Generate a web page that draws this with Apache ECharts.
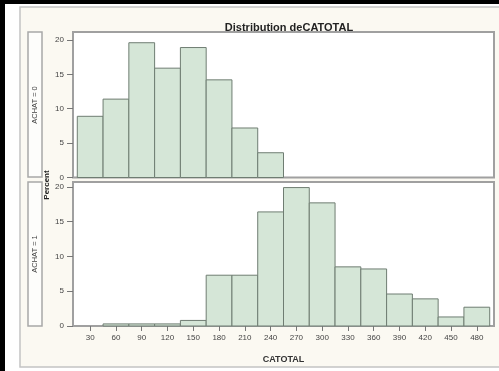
<!DOCTYPE html>
<html>
<head>
<meta charset="utf-8">
<script src="https://cdn.jsdelivr.net/npm/echarts@6/dist/echarts.min.js"></script>
<style>
  html, body { margin: 0; padding: 0; background: #fff; }
  #wrap { position: relative; width: 499px; height: 371px; }
  #chart { width: 499px; height: 371px; }
  #wrap::before { content: ''; position: absolute; left: 0; top: 0; width: 499px; height: 4px; background: #000; z-index: 5; }
  #wrap::after { content: ''; position: absolute; left: 0; top: 0; width: 5px; height: 371px; background: #000; z-index: 5; }
</style>
</head>
<body>
<div id="wrap"><div id="chart"></div></div>
<script>
// bin midpoints of CATOTAL (width 30)
const binCenters = [30, 60, 90, 120, 150, 180, 210, 240, 270, 300, 330, 360, 390, 420, 450, 480];
const binWidth = 30;
// percent per bin, ACHAT = 0
const achat0 = [8.9, 11.4, 19.6, 15.9, 18.9, 14.2, 7.2, 3.6, 0, 0, 0, 0, 0, 0, 0, 0];
// percent per bin, ACHAT = 1
const achat1 = [0, 0.3, 0.3, 0.3, 0.8, 7.3, 7.3, 16.4, 19.9, 17.7, 8.5, 8.2, 4.6, 3.9, 1.3, 2.7];
const yTicks = [0, 5, 10, 15, 20];
const panelLabels = ['ACHAT = 0', 'ACHAT = 1'];

const barFill = '#d5e6d7';
const barEdge = '#6f7d72';
const textFont = '"Liberation Sans", Arial, sans-serif';

const chart = echarts.init(document.getElementById('chart'));

function renderBar(params, api) {
  const v = api.value(1);
  if (!v) return null;
  const c = api.value(0);
  const topLeft = api.coord([c - binWidth / 2, v]);
  const botRight = api.coord([c + binWidth / 2, 0]);
  return {
    type: 'rect',
    shape: { x: topLeft[0], y: topLeft[1], width: botRight[0] - topLeft[0], height: botRight[1] - topLeft[1] },
    style: { fill: barFill, stroke: barEdge, lineWidth: 1 }
  };
}

const yAxisBase = {
  type: 'value',
  min: 0,
  splitLine: { show: false },
  axisLine: { show: false },
  axisTick: { show: true, customValues: yTicks, length: 6, lineStyle: { color: '#777' } },
  axisLabel: { customValues: yTicks, fontSize: 8, color: '#444', margin: 9, fontFamily: textFont }
};

const xAxisBase = {
  type: 'value',
  min: 10,
  max: 500,
  splitLine: { show: false },
  axisLine: { show: false }
};

const option = {
  animation: false,
  backgroundColor: '#fff',
  title: {
    text: 'Distribution deCATOTAL',
    left: 284,
    top: 17,
    textAlign: 'center',
    textStyle: { fontSize: 11, fontWeight: 'bold', color: '#222', fontFamily: textFont }
  },
  graphic: [
    { type: 'rect', z: -10, shape: { x: 20, y: 7, width: 500, height: 360 },
      style: { fill: '#fbf9f2', stroke: '#c4c4c4', lineWidth: 1.5 } },
    // strip label boxes
    { type: 'rect', shape: { x: 28, y: 32, width: 14, height: 145 },
      style: { fill: '#fdfdfb', stroke: '#a8a8a8', lineWidth: 1.5 } },
    { type: 'rect', shape: { x: 28, y: 182, width: 14, height: 144 },
      style: { fill: '#fdfdfb', stroke: '#a8a8a8', lineWidth: 1.5 } },
    { type: 'text', x: 35, y: 105, rotation: Math.PI / 2,
      style: { text: panelLabels[0], fill: '#444', align: 'center', verticalAlign: 'middle', font: '7.5px ' + textFont } },
    { type: 'text', x: 35, y: 254, rotation: Math.PI / 2,
      style: { text: panelLabels[1], fill: '#444', align: 'center', verticalAlign: 'middle', font: '7.5px ' + textFont } },
    { type: 'text', x: 47, y: 185, rotation: Math.PI / 2,
      style: { text: 'Percent', fill: '#222', align: 'center', verticalAlign: 'middle', font: 'bold 8px ' + textFont } }
  ],
  grid: [
    { left: 73, top: 32, width: 421, height: 145.5, show: true, backgroundColor: '#fff', borderColor: '#a0a0a0', borderWidth: 2 },
    { left: 73, top: 182, width: 421, height: 144, show: true, backgroundColor: '#fff', borderColor: '#a0a0a0', borderWidth: 2 }
  ],
  xAxis: [
    Object.assign({}, xAxisBase, { gridIndex: 0, axisTick: { show: false }, axisLabel: { show: false } }),
    Object.assign({}, xAxisBase, {
      gridIndex: 1,
      name: 'CATOTAL',
      nameLocation: 'middle',
      nameGap: 29,
      nameTextStyle: { fontSize: 9, fontWeight: 'bold', color: '#333', fontFamily: textFont },
      axisTick: { show: true, customValues: binCenters, length: 5, lineStyle: { color: '#777' } },
      axisLabel: { customValues: binCenters, fontSize: 8, color: '#444', margin: 8, fontFamily: textFont }
    })
  ],
  yAxis: [
    Object.assign({}, yAxisBase, { gridIndex: 0, max: 21.16 }),
    Object.assign({}, yAxisBase, { gridIndex: 1, max: 20.7 })
  ],
  series: [
    {
      type: 'custom', xAxisIndex: 0, yAxisIndex: 0,
      renderItem: renderBar,
      encode: { x: 0, y: 1 },
      data: binCenters.map((c, i) => [c, achat0[i]])
    },
    {
      type: 'custom', xAxisIndex: 1, yAxisIndex: 1,
      renderItem: renderBar,
      encode: { x: 0, y: 1 },
      data: binCenters.map((c, i) => [c, achat1[i]])
    }
  ]
};

chart.setOption(option);
</script>
</body>
</html>
